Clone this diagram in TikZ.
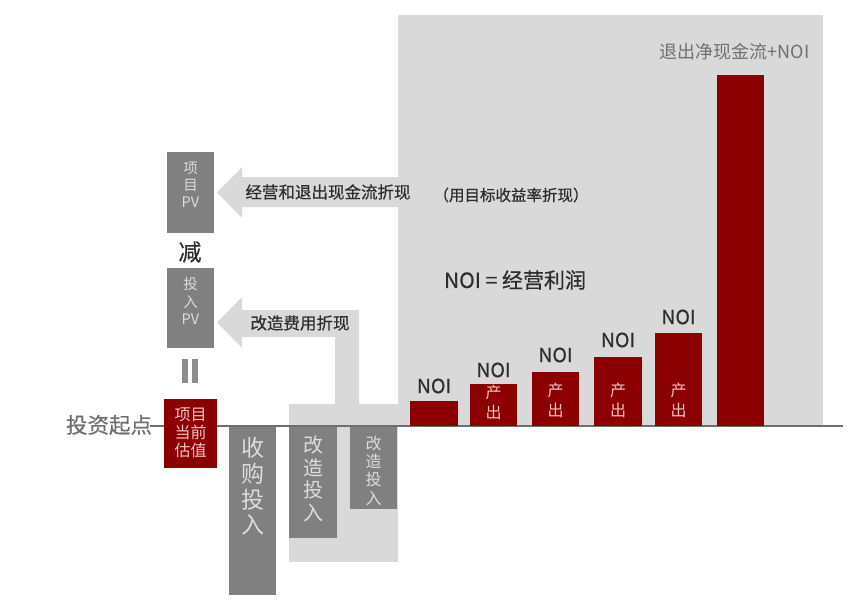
\documentclass[tikz,border=0pt]{standalone}
\usepackage{fontspec}
\setmainfont{Noto Sans CJK SC}[FakeBold=0.6]
\newfontfamily\plainfont{Noto Sans CJK SC}
\definecolor{bglight}{HTML}{D9D9D9}
\definecolor{boxgray}{HTML}{808080}
\definecolor{barred}{HTML}{8B0000}
\definecolor{axisgray}{HTML}{6E6E6E}
\definecolor{txtdark}{HTML}{2E2E2E}
\definecolor{txtlight}{HTML}{DCDCDC}
\definecolor{txtpink}{HTML}{F2C6C6}
\definecolor{txtmid}{HTML}{707070}
\begin{document}
\begin{tikzpicture}[x=1pt,y=-1pt,
  every node/.style={inner sep=0pt, outer sep=0pt},
  graybox/.style={fill=boxgray, draw=none, anchor=north west},
  redbox/.style={fill=barred, draw=none, anchor=north west},
  bar/.style={fill=barred, draw=none, anchor=south west},
  noilabel/.style={text=txtdark, font=\fontsize{19.5}{20}\selectfont},
  inbar/.style={text=txtpink, align=center, font=\plainfont\fontsize{16}{20}\selectfont},
  arrowtext/.style={text=txtdark, font=\fontsize{16.5}{18}\selectfont},
  axisline/.style={draw=axisgray, line width=2pt}]
\useasboundingbox (0,0) rectangle (865,608);
% backgrounds
\fill[bglight] (398,15) rectangle (823,427);
\fill[bglight] (289,404) rectangle (398,562);
\fill[bglight] (398,177) -- (242,177) -- (242,167) -- (217,192.5) -- (242,218) -- (242,207) -- (398,207) -- cycle;
\fill[bglight] (359,404) -- (359,310) -- (242,310) -- (242,297) -- (217,322.5) -- (242,348) -- (242,337) -- (335,337) -- (335,404) -- cycle;
% axis
\coordinate (axl) at (150,426);
\coordinate (axr) at (843,426);
\draw[axisline] (axl) -- (axr);
\node[text=txtmid, font=\fontsize{21.5}{22}\selectfont] (start) at (109,425) {投资起点};
% left column
\node[graybox, minimum width=47, minimum height=81] (pv1) at (167,152) {};
\node[text=txtlight, align=center, font=\plainfont\fontsize{14.5}{17}\selectfont] (pv1t) at (190.5,185) {项\\目\\PV};
\node[text=txtdark, font=\fontsize{23}{24}\selectfont] (minus) at (190,252) {减};
\node[graybox, minimum width=47, minimum height=80] (pv2) at (167,268) {};
\node[text=txtlight, align=center, font=\plainfont\fontsize{14.5}{17.5}\selectfont] (pv2t) at (190.5,301) {投\\入\\PV};
\fill[boxgray!90] (182,359) rectangle (188,383);
\fill[boxgray!90] (192,359) rectangle (198,383);
\node[redbox, minimum width=53, minimum height=69] (cur) at (164,399) {};
\node[text=txtpink, align=center, font=\plainfont\fontsize{16}{18}\selectfont] (curt) at (190.5,433) {项目\\当前\\估值};
% investment boxes
\node[graybox, minimum width=47, minimum height=168] (buy) at (229,427) {};
\node[text=txtlight, align=center, font=\plainfont\fontsize{23}{25.7}\selectfont] (buyt) at (252.5,486.5) {收\\购\\投\\入};
\node[graybox, minimum width=48, minimum height=111] (rf1) at (289,427) {};
\node[text=txtlight, align=center, font=\plainfont\fontsize{20}{22.5}\selectfont] (rf1t) at (313,479) {改\\造\\投\\入};
\node[graybox, minimum width=47, minimum height=82] (rf2) at (350,427) {};
\node[text=txtlight, align=center, font=\plainfont\fontsize{16}{18.3}\selectfont] (rf2t) at (373.5,470.5) {改\\造\\投\\入};
% arrow texts
\node[arrowtext] (a1t) at (328,192) {经营和退出现金流折现};
\node[arrowtext] (a2t) at (300,323) {改造费用折现};
\node[text=txtdark, font=\fontsize{15.5}{17}\selectfont] (rate) at (511,195) {（用目标收益率折现）};
\node[text=txtdark, font=\fontsize{21}{22}\selectfont] (noidef) at (515,280) {NOI = 经营利润};
% bars
\node[bar, minimum width=48, minimum height=25] (b1) at (410,426) {};
\node[bar, minimum width=47, minimum height=42] (b2) at (470,426) {};
\node[bar, minimum width=47, minimum height=54] (b3) at (532,426) {};
\node[bar, minimum width=48, minimum height=69] (b4) at (594,426) {};
\node[bar, minimum width=47, minimum height=93] (b5) at (655,426) {};
\node[bar, minimum width=47, minimum height=351] (b6) at (717,426) {};
\node[inbar] (b2t) at (493.5,402) {产\\出};
\node[inbar] (b3t) at (555.5,400) {产\\出};
\node[inbar] (b4t) at (618,400) {产\\出};
\node[inbar] (b5t) at (678.5,400) {产\\出};
\node[noilabel] (n1) at (434,386) {NOI};
\node[noilabel] (n2) at (493.5,370) {NOI};
\node[noilabel] (n3) at (555.5,355) {NOI};
\node[noilabel] (n4) at (618,340) {NOI};
\node[noilabel] (n5) at (678.5,317) {NOI};
\node[text=txtmid, font=\plainfont\fontsize{18}{19}\selectfont] (exit) at (734.5,52) {退出净现金流+NOI};
\end{tikzpicture}
\end{document}
